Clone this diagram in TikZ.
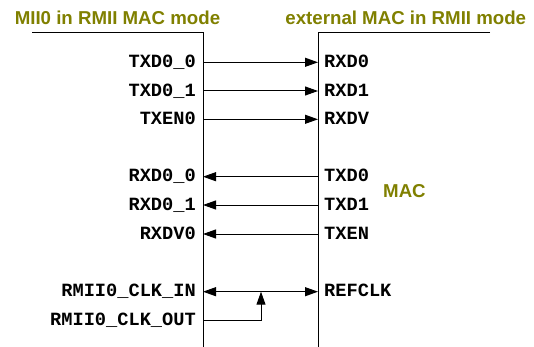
\documentclass[tikz,border=0pt]{standalone}
\usepackage{fontspec}
\newfontfamily\ttlfont{Liberation Sans}
\newfontfamily\sigfont{Liberation Mono}
\usetikzlibrary{arrows.meta}
\definecolor{olivetxt}{RGB}{128,128,0}
\tikzset{
  ttl/.style={font=\ttlfont\bfseries\fontsize{18.67}{20}\selectfont, text=olivetxt, inner sep=0pt},
  sigl/.style={font=\sigfont\bfseries\fontsize{18.67}{20}\selectfont, inner sep=0pt, anchor=base east},
  sigr/.style={font=\sigfont\bfseries\fontsize{18.67}{20}\selectfont, inner sep=0pt, anchor=base west},
  wire/.style={line width=1pt},
  tip/.style={-{Triangle[length=13pt,width=9pt]}},
}
\begin{document}
\begin{tikzpicture}[x=1pt,y=-1pt]
\useasboundingbox (0,0) rectangle (534,347);
% titles
\node[ttl, anchor=base] (t1) at (117.5,25) {MII0 in RMII MAC mode};
\node[ttl, anchor=base] (t2) at (405.8,25) {external MAC in RMII mode};
\node[ttl, anchor=base west] (mac) at (383,197) {MAC};
% box outlines
\coordinate (lt0) at (32,33);
\coordinate (lt1) at (203,33);
\coordinate (lb) at (203,348);
\coordinate (rt0) at (318,33);
\coordinate (rt1) at (490,33);
\coordinate (rb) at (318,348);
\draw[wire] (lt0) -- (lt1) -- (lb);
\draw[wire] (rt1) -- (rt0) -- (rb);
% rows
\foreach \n/\y/\la/\lb in {a/62.3/TXD0\_0/RXD0, b/91/TXD0\_1/RXD1, c/119.3/TXEN0/RXDV}{
  \node[sigl] (L\n) at (196,\y+5.2) {\la};
  \node[sigr] (R\n) at (324,\y+5.2) {\lb};
  \coordinate (LA\n) at (203,\y);
  \coordinate (RA\n) at (318,\y);
  \draw[wire,tip] (LA\n) -- (RA\n);
}
\foreach \n/\y/\la/\lb in {d/176.7/RXD0\_0/TXD0, e/205/RXD0\_1/TXD1, f/234/RXDV0/TXEN}{
  \node[sigl] (L\n) at (196,\y+5.2) {\la};
  \node[sigr] (R\n) at (324,\y+5.2) {\lb};
  \coordinate (LA\n) at (203,\y);
  \coordinate (RA\n) at (318,\y);
  \draw[wire,tip] (RA\n) -- (LA\n);
}
% clock
\node[sigl] (Lg) at (196,291.7+5.2) {RMII0\_CLK\_IN};
\node[sigr] (Rg) at (324,291.7+5.2) {REFCLK};
\node[sigl] (Lh) at (196,320+5.2) {RMII0\_CLK\_OUT};
\coordinate (LAg) at (203,291.7);
\coordinate (RAg) at (318,291.7);
\coordinate (LAh) at (203,320);
\coordinate (J) at (261,291.7);
\coordinate (Jb) at (261,320);
\draw[wire,{Triangle[length=13pt,width=9pt]}-{Triangle[length=13pt,width=9pt]}] (LAg) -- (RAg);
\draw[wire,tip] (LAh) -- (Jb) -- (J);
\end{tikzpicture}
\end{document}
